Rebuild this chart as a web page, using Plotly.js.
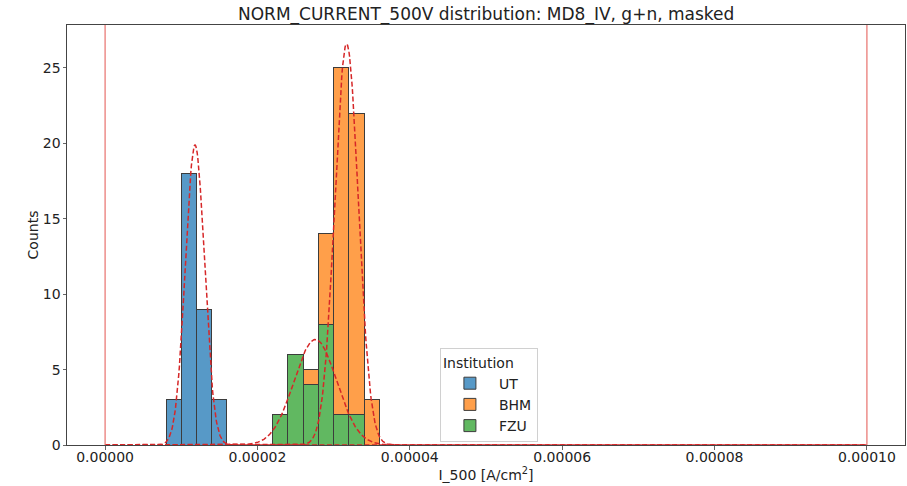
<!DOCTYPE html>
<html>
<head>
<meta charset="utf-8">
<script src="https://cdn.plot.ly/plotly-3.0.1.min.js"></script>
<style>html,body{margin:0;padding:0;background:#fff;}#chart{width:907px;height:486px;}</style>
</head>
<body>
<div id="chart"></div>
<script>
// Histogram bin centers (A/cm^2), bin width 2e-6
const binWidth = 2e-6;
const utBins = [9e-6, 11e-6, 13e-6, 15e-6];
const utCounts = [3, 18, 9, 3];
const fzuBins = [23e-6, 25e-6, 27e-6, 29e-6, 31e-6, 33e-6];
const fzuCounts = [2, 6, 4, 8, 2, 2];
const bhmBins = [27e-6, 29e-6, 31e-6, 33e-6, 35e-6];
const bhmCounts = [1, 6, 23, 20, 3];   // stacked on top of FZU

// Gaussian fit parameters: [amplitude, mean, sigma]
const fitNames = ['UT', 'BHM', 'FZU'];
const fitAmp = [19.9, 26.6, 7.0];
const fitMean = [11.8e-6, 31.7e-6, 27.6e-6];
const fitSigma = [1.25e-6, 1.55e-6, 2.8e-6];

// Limit lines
const limits = [0, 1e-4];

const xTicks = [0, 2e-5, 4e-5, 6e-5, 8e-5, 1e-4];
const yTicks = [0, 5, 10, 15, 20, 25];

const edge = {color: '#3c3c3c', width: 1};
const traces = [
  {type: 'bar', name: 'UT', x: utBins, y: utCounts, width: binWidth,
   marker: {color: 'rgba(31,119,180,0.75)', line: edge}, legendrank: 1},
  {type: 'bar', name: 'FZU', x: fzuBins, y: fzuCounts, width: binWidth,
   marker: {color: 'rgba(44,160,44,0.75)', line: edge}, legendrank: 3},
  {type: 'bar', name: 'BHM', x: bhmBins, y: bhmCounts, width: binWidth,
   marker: {color: 'rgba(255,127,14,0.75)', line: edge}, legendrank: 2}
];

for (let k = 0; k < fitNames.length; k++) {
  const xs = [], ys = [];
  const n = 1200;
  for (let i = 0; i <= n; i++) {
    const x = limits[0] + (limits[1] - limits[0]) * i / n;
    xs.push(x);
    ys.push(fitAmp[k] * Math.exp(-0.5 * Math.pow((x - fitMean[k]) / fitSigma[k], 2)));
  }
  traces.push({type: 'scatter', mode: 'lines', x: xs, y: ys, showlegend: false,
    line: {color: '#d62728', width: 1.5, dash: '5px,2.5px'}, hoverinfo: 'skip'});
}

const shapes = limits.map(v => ({type: 'line', xref: 'x', yref: 'paper', x0: v, x1: v, y0: 0, y1: 1,
  line: {color: '#e8706c', width: 1.2}, layer: 'above'}));

const layout = {
  width: 907, height: 486,
  margin: {l: 67, r: 2, t: 25, b: 41},
  paper_bgcolor: '#fff', plot_bgcolor: '#fff',
  font: {family: 'DejaVu Sans, sans-serif', size: 14, color: '#222'},
  barmode: 'stack', bargap: 0,
  title: {text: 'NORM_CURRENT_500V distribution: MD8_IV, g+n, masked', font: {size: 17, color: '#222'},
    x: 0.536, xanchor: 'center', y: 0.972, yanchor: 'middle'},
  xaxis: {range: [-5e-6, 105e-6], tickvals: xTicks, tickformat: '.5f', ticks: 'outside', ticklen: 3.5,
    tickcolor: '#666', showgrid: false, zeroline: false, showline: true, mirror: true, linecolor: '#444',
    linewidth: 1, tickfont: {size: 14, color: '#222'}, ticklabelstandoff: -4,
    title: {text: 'I_500 [A/cm<sup>2</sup>]', font: {size: 14, color: '#222'}, standoff: 0}},
  yaxis: {range: [0, 27.85], tickvals: yTicks, ticks: 'outside', ticklen: 3.5, tickcolor: '#666',
    showgrid: false, zeroline: false, showline: true, mirror: true, linecolor: '#444', linewidth: 1,
    tickfont: {size: 14, color: '#222'}, ticklabelstandoff: -1,
    title: {text: 'Counts', font: {size: 14, color: '#222'}, standoff: 0}},
  legend: {x: 0.445, y: 0.23, xanchor: 'left', yanchor: 'top', bgcolor: 'rgba(255,255,255,0.85)',
    bordercolor: '#d0d0d0', borderwidth: 1, font: {size: 14, color: '#222'}, itemwidth: 48,
    title: {text: 'Institution', font: {size: 14, color: '#222'}}, traceorder: 'normal'},
  shapes: shapes,
  showlegend: true
};

Plotly.newPlot('chart', traces, layout, {staticPlot: true, displayModeBar: false});
</script>
</body>
</html>
